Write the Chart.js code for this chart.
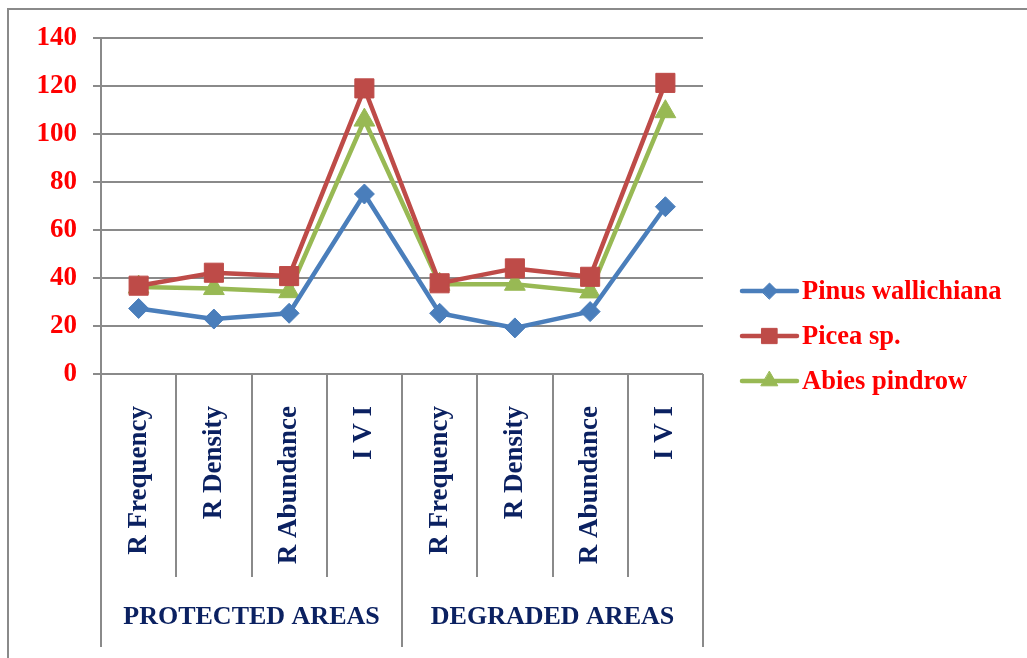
<!DOCTYPE html>
<html>
<head>
<meta charset="utf-8">
<script src="https://cdn.jsdelivr.net/npm/chart.js@4.4.1/dist/chart.umd.min.js"></script>
<style>
  html, body { margin: 0; padding: 0; background: #ffffff; overflow: hidden; }
  #wrap { position: relative; width: 1027px; height: 658px; }
  #frame {
    position: absolute; left: 7px; top: 8px; width: 1100px; height: 700px;
    border-left: 2px solid #8a8a8a; border-top: 2px solid #8a8a8a;
    pointer-events: none;
  }
  canvas { position: absolute; left: 0; top: 0; }
</style>
</head>
<body>
<div id="wrap">
  <div id="frame"></div>
  <canvas id="chart" width="1027" height="658"></canvas>
</div>
<script>
// Categories along the x axis, grouped by site type
const categories = [
  'R Frequency', 'R Density', 'R Abundance', 'I V I',
  'R Frequency', 'R Density', 'R Abundance', 'I V I'
];
const groups = ['PROTECTED AREAS', 'DEGRADED AREAS'];
const seriesNames = ['Pinus wallichiana', 'Picea sp.', 'Abies pindrow'];

// Values per species
const pinusWallichiana = [27.3, 22.9, 25.3, 75.0, 25.3, 19.2, 26.0, 69.7];
const piceaSp          = [36.8, 42.2, 40.8, 119.0, 37.8, 44.0, 40.5, 121.3];
const abiesPindrow     = [36.2, 35.6, 34.3, 105.8, 37.4, 37.4, 34.2, 109.3];

// Y axis range / tick spacing
const yMin = 0, yMax = 140, yStep = 20;

const FONT = "'Liberation Serif', 'Times New Roman', serif";
const NAVY = '#0b2161';
const RED = '#ff0000';
const AXIS_GREY = '#8a8a8a';

const styles = [
  { color: '#4a7ebb', point: 'rectRot',  radius: 10 },
  { color: '#be4b48', point: 'rect',     radius: 13.5 },
  { color: '#98b954', point: 'triangle', radius: 12 }
];
const seriesData = [pinusWallichiana, piceaSp, abiesPindrow];

const datasets = seriesData.map((d, i) => ({
  label: seriesNames[i],
  data: d,
  borderColor: styles[i].color,
  backgroundColor: styles[i].color,
  borderWidth: 4.5,
  tension: 0,
  pointStyle: styles[i].point,
  pointRadius: styles[i].radius,
  pointHoverRadius: styles[i].radius,
  pointBorderWidth: 1,
  pointBackgroundColor: styles[i].color,
  pointBorderColor: styles[i].color
}));

// Separators between categories and the group captions below the tick labels
const groupAxisPlugin = {
  id: 'groupAxis',
  afterDraw(chart) {
    const ctx = chart.ctx;
    const x = chart.scales.x;
    const area = chart.chartArea;
    const n = categories.length;
    const per = n / groups.length;
    const edge = (i) => {
      if (i === 0) return area.left;
      if (i === n) return area.right;
      return (x.getPixelForValue(i - 1) + x.getPixelForValue(i)) / 2;
    };
    const innerBottom = 577;
    const outerBottom = 647;
    ctx.save();
    ctx.strokeStyle = AXIS_GREY;
    ctx.lineWidth = 2;
    for (let i = 0; i <= n; i++) {
      const px = Math.round(edge(i));
      const isGroupEdge = i % per === 0;
      ctx.beginPath();
      ctx.moveTo(px, area.bottom);
      ctx.lineTo(px, isGroupEdge ? outerBottom : innerBottom);
      ctx.stroke();
    }
    ctx.fillStyle = NAVY;
    ctx.font = 'bold 26px ' + FONT;
    ctx.textAlign = 'center';
    ctx.textBaseline = 'middle';
    groups.forEach((g, gi) => {
      const cx = (edge(gi * per) + edge((gi + 1) * per)) / 2;
      ctx.fillText(g, cx, 617);
    });
    ctx.restore();
  }
};

// Legend: line sample with marker, followed by the series name
const lineLegendPlugin = {
  id: 'lineLegend',
  afterDraw(chart) {
    const ctx = chart.ctx;
    const x0 = 742, x1 = 797, textX = 802, top = 291, gap = 45;
    ctx.save();
    chart.data.datasets.forEach((ds, i) => {
      const y = top + i * gap;
      ctx.strokeStyle = ds.borderColor;
      ctx.lineWidth = 4.5;
      ctx.lineCap = 'round';
      ctx.beginPath();
      ctx.moveTo(x0, y);
      ctx.lineTo(x1, y);
      ctx.stroke();
      ctx.fillStyle = ds.pointBackgroundColor;
      ctx.strokeStyle = ds.pointBorderColor;
      ctx.lineWidth = 1;
      Chart.helpers.drawPoint(ctx, {
        pointStyle: ds.pointStyle,
        radius: ds.pointRadius * 0.8,
        rotation: 0,
        borderWidth: 1
      }, (x0 + x1) / 2, y);
      ctx.fillStyle = RED;
      ctx.font = 'bold 26.5px ' + FONT;
      ctx.textAlign = 'left';
      ctx.textBaseline = 'middle';
      ctx.fillText(ds.label, textX, y + 1);
    });
    ctx.restore();
  }
};

new Chart(document.getElementById('chart'), {
  type: 'line',
  data: { labels: categories, datasets },
  options: {
    responsive: false,
    animation: false,
    devicePixelRatio: 1,
    layout: { padding: { top: 38, right: 324, bottom: 0, left: 0 } },
    plugins: {
      legend: { display: false },
      tooltip: { enabled: false }
    },
    scales: {
      x: {
        type: 'category',
        offset: true,
        grid: { display: false },
        border: { display: false },
        ticks: {
          autoSkip: false,
          minRotation: 90,
          maxRotation: 90,
          padding: 24,
          color: NAVY,
          font: { family: FONT, size: 27, weight: 'bold' }
        },
        afterFit(scale) { scale.height = 284; }
      },
      y: {
        min: yMin,
        max: yMax,
        ticks: {
          stepSize: yStep,
          padding: 16,
          color: RED,
          font: { family: FONT, size: 27, weight: 'bold' }
        },
        grid: {
          color: AXIS_GREY,
          lineWidth: 2,
          drawTicks: true,
          tickLength: 8
        },
        border: { display: true, color: AXIS_GREY, width: 2 },
        afterFit(scale) { scale.width = 101; }
      }
    }
  },
  plugins: [groupAxisPlugin, lineLegendPlugin]
});
</script>
</body>
</html>
